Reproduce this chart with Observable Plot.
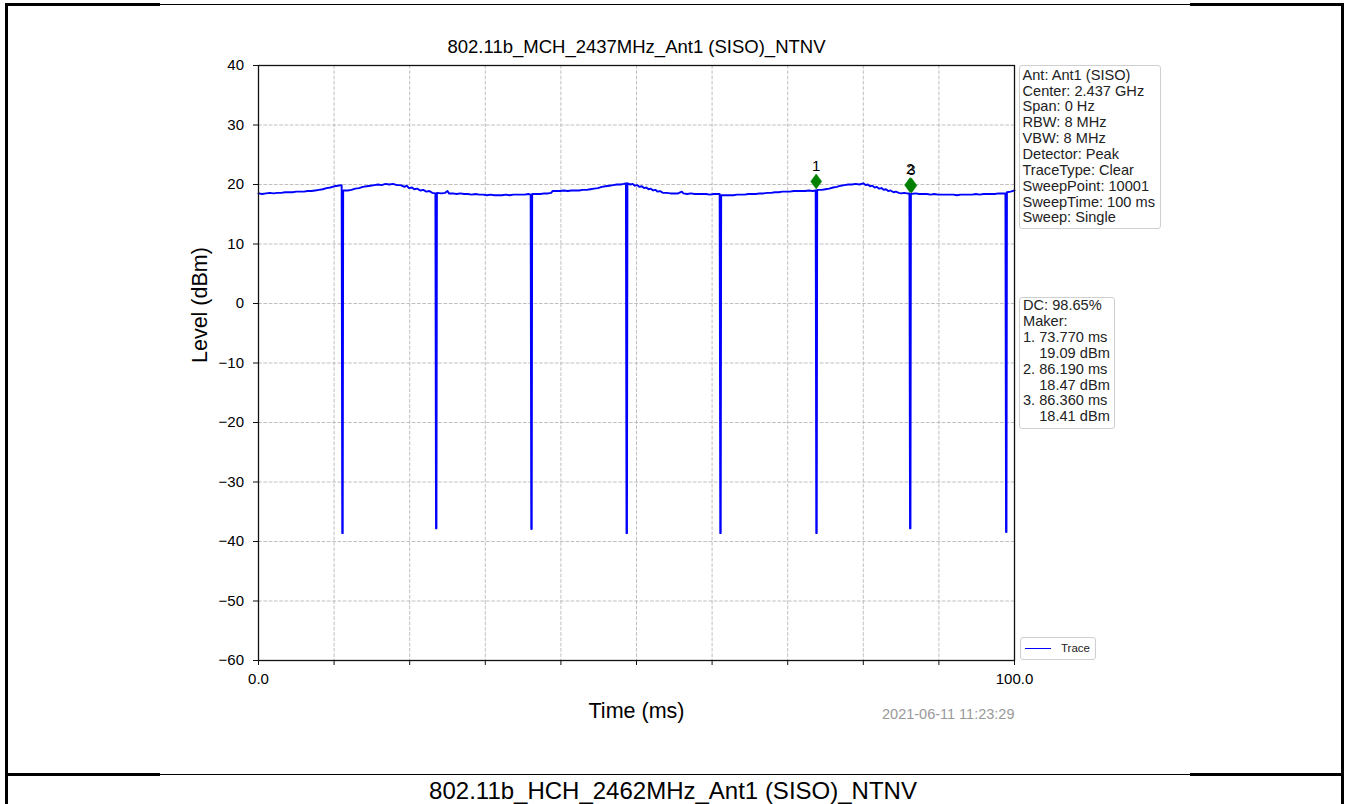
<!DOCTYPE html>
<html>
<head>
<meta charset="utf-8">
<script src="https://cdn.jsdelivr.net/npm/d3@7"></script>
<script src="https://cdn.jsdelivr.net/npm/@observablehq/plot@0.6"></script>
<style>
html, body { margin: 0; padding: 0; background: #fff; overflow: hidden; }
#page { position: relative; width: 1346px; height: 804px; font-family: "Liberation Sans", Arial, sans-serif; }
#chart { position: absolute; left: 0; top: 0; }
.ln { position: absolute; background: #000; }
.box { position: absolute; box-sizing: border-box; border: 1.3px solid #cfcfcf; border-radius: 3px;
       background: rgba(255,255,255,0.85); color: #222; white-space: pre; font-size: 14.6px; line-height: 15.85px; }
#legend { position: absolute; left: 1020px; top: 637px; width: 76px; height: 23px; box-sizing: border-box;
          border: 1.3px solid #cfcfcf; border-radius: 3px; background: #fff; }
#legend .sw { position: absolute; left: 4px; top: 9.5px; width: 26px; height: 1.6px; background: #0000ff; }
#legend .lb { position: absolute; left: 40px; top: 3px; font-size: 11.5px; line-height: 14px; color: #222; }
#caption { position: absolute; left: 0; top: 776px; width: 1346px; height: 28px; text-align: center;
           font-size: 24px; line-height: 30px; color: #000; }
</style>
</head>
<body>
<div id="page"></div>
<script>
// ---- data ----
const chartTitle = "802.11b_MCH_2437MHz_Ant1 (SISO)_NTNV";
const captionText = "802.11b_HCH_2462MHz_Ant1 (SISO)_NTNV";
const xLabel = "Time (ms)";
const yLabel = "Level (dBm)";
const timestamp = "2021-06-11 11:23:29";
const xDomain = [0, 100];
const yDomain = [-60, 40];
const xTicks = [0, 10, 20, 30, 40, 50, 60, 70, 80, 90, 100];
const xTickLabels = ["0.0", "", "", "", "", "", "", "", "", "", "100.0"];
const yTicks = [-60, -50, -40, -30, -20, -10, 0, 10, 20, 30, 40];

// trace samples [time ms, level dBm]
const traceSamples = [
  [0,18.5],[0.5,18.4],[1,18.5],[1.5,18.6],[2,18.5],[2.5,18.6],[3,18.6],[3.5,18.7],[4,18.7],[4.5,18.7],
  [5,18.8],[5.5,18.8],[6,18.8],[6.5,18.9],[7,18.9],[7.5,19.0],[8,19.1],[8.5,19.2],[9,19.4],[9.5,19.5],
  [10,19.7],[10.5,19.8],[11.0,19.9],
  [11.08,-38.6],[11.14,-38.6],
  [11.2,19.0],[11.8,19.0],[12.3,19.1],[12.8,19.3],[13.3,19.4],[13.8,19.6],[14.3,19.7],[14.8,19.8],[15.3,19.9],
  [15.8,20.0],[16.3,19.9],[16.8,20.1],[17.3,20.0],[17.8,20.1],[18.3,19.9],[18.8,19.9],[19.3,19.6],[19.6,19.8],
  [19.9,19.4],[20.3,19.5],[20.6,19.2],[21,19.3],[21.4,19.0],[21.8,19.1],[22.2,18.8],[22.6,18.9],[23.0,18.6],[23.4,18.5],
  [23.48,-37.8],[23.54,-37.8],
  [23.6,18.6],[24.2,18.5],[24.7,18.6],[25.0,18.9],[25.2,18.5],[25.7,18.5],[26.2,18.4],[26.7,18.5],[27.2,18.4],
  [27.7,18.4],[28.2,18.3],[28.7,18.4],[29.2,18.3],[29.7,18.3],[30.2,18.2],[30.7,18.3],[31.2,18.2],[31.7,18.2],
  [32.2,18.2],[32.7,18.3],[33.2,18.2],[33.7,18.3],[34.2,18.3],[34.7,18.3],[35.2,18.3],[35.7,18.4],[36.0,18.3],
  [36.08,-37.9],[36.14,-37.9],
  [36.2,18.4],[36.8,18.4],[37.3,18.4],[37.8,18.5],[38.3,18.5],[38.7,18.6],[38.9,18.9],[39.4,18.9],[39.9,18.9],
  [40.4,19.0],[40.9,18.9],[41.4,19.0],[41.9,19.0],[42.4,19.0],[42.9,19.1],[43.4,19.1],[43.9,19.2],[44.4,19.3],
  [44.9,19.4],[45.4,19.6],[45.9,19.7],[46.4,19.8],[46.9,19.9],[47.4,20.0],[47.9,20.0],[48.3,20.1],[48.6,20.2],
  [48.68,-38.6],[48.74,-38.6],
  [48.8,20.2],[49.2,20.0],[49.5,20.1],[49.8,19.8],[50.1,19.9],[50.4,19.6],[50.7,19.7],[51.0,19.4],[51.3,19.5],
  [51.6,19.2],[51.9,19.3],[52.2,19.0],[52.5,19.1],[52.8,18.8],[53.1,18.9],[53.5,18.6],[54,18.6],[54.5,18.5],
  [55,18.5],[55.5,18.5],[56.0,18.8],[56.2,18.5],[56.7,18.4],[57.2,18.5],[57.7,18.4],[58.2,18.4],[58.7,18.4],
  [59.2,18.4],[59.7,18.3],[60.2,18.4],[60.7,18.4],[61.0,18.4],
  [61.08,-38.6],[61.14,-38.6],
  [61.2,18.2],[61.8,18.2],[62.3,18.2],[62.8,18.2],[63.3,18.3],[63.8,18.3],[64.3,18.3],[64.8,18.4],[65.3,18.4],
  [65.8,18.4],[66.3,18.5],[66.8,18.5],[67.3,18.6],[67.8,18.6],[68.3,18.7],[68.8,18.7],[69.3,18.8],[69.8,18.8],
  [70.3,18.8],[70.8,18.9],[71.3,18.9],[71.8,18.9],[72.3,18.9],[72.8,19.0],[73.3,18.9],[73.7,19.0],
  [73.78,-38.6],[73.84,-38.6],
  [73.9,19.1],[74.5,19.1],[75,19.2],[75.5,19.3],[76,19.5],[76.5,19.6],[77,19.8],[77.5,19.9],[78,20.0],
  [78.5,20.0],[79,20.1],[79.5,20.0],[80,20.2],[80.3,19.9],[80.6,20.0],[80.9,19.7],[81.2,19.8],[81.5,19.5],
  [81.8,19.6],[82.1,19.3],[82.4,19.4],[82.7,19.1],[83,19.2],[83.3,18.9],[83.6,19.0],[84,18.7],[84.3,18.8],
  [84.7,18.6],[85.0,18.5],[85.4,18.6],[85.8,18.5],[86.1,18.5],
  [86.18,-37.8],[86.24,-37.8],
  [86.3,18.4],[86.9,18.5],[87.4,18.4],[87.9,18.4],[88.4,18.4],[88.9,18.3],[89.4,18.4],[89.9,18.3],[90.4,18.3],
  [90.9,18.3],[91.4,18.3],[91.9,18.3],[92.4,18.2],[92.9,18.3],[93.4,18.3],[93.9,18.3],[94.4,18.3],[94.9,18.4],
  [95.4,18.3],[95.9,18.4],[96.4,18.4],[96.9,18.4],[97.4,18.4],[97.9,18.5],[98.4,18.5],[98.8,18.5],
  [98.88,-38.4],[98.94,-38.4],
  [99.0,18.7],[99.5,18.8],[100,19.0]
];

const markerIds = ["1", "2", "3"];
const markerTimes = [73.770, 86.190, 86.360];
const markerLevels = [19.09, 18.47, 18.41];

const infoLines = ["Ant: Ant1 (SISO)", "Center: 2.437 GHz", "Span: 0 Hz", "RBW: 8 MHz", "VBW: 8 MHz",
  "Detector: Peak", "TraceType: Clear", "SweepPoint: 10001", "SweepTime: 100 ms", "Sweep: Single"];
const dcLines = ["DC: 98.65%", "Maker:", "1. 73.770 ms", "    19.09 dBm", "2. 86.190 ms", "    18.47 dBm",
  "3. 86.360 ms", "    18.41 dBm"];
const legendLabel = "Trace";

// ---- build ----
const traceRows = traceSamples.map(([t, v]) => ({t, v}));
const markerRows = markerIds.map((id, i) => ({id, t: markerTimes[i], v: markerLevels[i]}));
const minus = d => d < 0 ? "\u2212" + Math.abs(d) : String(d);
const thinDiamond = {
  draw(ctx, size) {
    const r = Math.sqrt(size / Math.PI);
    ctx.moveTo(0, -r * 1.5); ctx.lineTo(r * 1.1, 0); ctx.lineTo(0, r * 1.5); ctx.lineTo(-r * 1.1, 0); ctx.closePath();
  }
};
const gridStyle = {stroke: "#b0b0b0", strokeOpacity: 1, strokeWidth: 0.8, strokeDasharray: "3.7,1.6"};

const chart = Plot.plot({
  width: 1346, height: 774,
  marginLeft: 258, marginRight: 332, marginTop: 65, marginBottom: 114,
  style: {fontFamily: "'Liberation Sans', Arial, sans-serif", background: "transparent", color: "#000"},
  x: {domain: xDomain},
  y: {domain: yDomain},
  marks: [
    Plot.gridX(xTicks, gridStyle),
    Plot.gridY(yTicks, gridStyle),
    Plot.line(traceRows, {x: "t", y: "v", stroke: "#0000ff", strokeWidth: 1.9}),
    Plot.frame({stroke: "#111", strokeWidth: 1.3}),
    Plot.axisX(xTicks, {tickSize: 5, tickPadding: 8, fontSize: 15, label: null,
      tickFormat: d => xTickLabels[xTicks.indexOf(d)], stroke: "#111"}),
    Plot.axisY(yTicks, {tickSize: 5, tickPadding: 9.5, fontSize: 15, label: null, tickFormat: minus, stroke: "#111"}),
    Plot.dot(markerRows, {x: "t", y: "v", symbol: thinDiamond, r: 5, fill: "#008000", stroke: "#008000", strokeWidth: 0.5, dy: -8.5}),
    Plot.text(markerRows, {x: "t", y: "v", text: "id", dy: -24, fontSize: 15, fill: "#000"}),
    Plot.text([chartTitle], {frameAnchor: "top", lineAnchor: "middle", dy: -18, fontSize: 18.5, fill: "#000"}),
    Plot.text([xLabel], {frameAnchor: "bottom", lineAnchor: "middle", dy: 51, fontSize: 21.5, fill: "#000"}),
    Plot.text([yLabel], {frameAnchor: "left", lineAnchor: "middle", dx: -58, rotate: -90, fontSize: 21.5, fill: "#000"}),
    Plot.text([timestamp], {frameAnchor: "bottom-right", lineAnchor: "middle", textAnchor: "end", dy: 54, fontSize: 14.5, fill: "#999"})
  ]
});
chart.id = "chart";
const page = document.getElementById("page");
page.appendChild(chart);

function addBox(lines, left, top, width, height, padTop) {
  const b = document.createElement("div");
  b.className = "box";
  Object.assign(b.style, {left: left + "px", top: top + "px", width: width + "px", height: height + "px",
    paddingTop: padTop + "px", paddingLeft: "3px"});
  b.textContent = lines.join("\n");
  page.appendChild(b);
}
addBox(infoLines, 1018.5, 65, 142.5, 163.5, 1.8);
addBox(dcLines, 1019, 297, 95.5, 131.5, 0.3);

const lg = document.createElement("div");
lg.id = "legend";
lg.innerHTML = '<div class="sw"></div>';
const lb = document.createElement("div");
lb.className = "lb"; lb.textContent = legendLabel;
lg.appendChild(lb);
page.appendChild(lg);

const cap = document.createElement("div");
cap.id = "caption"; cap.textContent = captionText;
page.appendChild(cap);

// page frame lines (document table borders)
[[5,3,155,3],[160,4,1030,1],[1190,3,152,3],[5,3,3,801],[1341,3,3,801],
 [5,773,155,3],[160,774,1030,1],[1190,773,152,3]].forEach(([l,t,w,h]) => {
  const d = document.createElement("div");
  d.className = "ln";
  Object.assign(d.style, {left: l + "px", top: t + "px", width: w + "px", height: h + "px"});
  page.appendChild(d);
});
</script>
</body>
</html>
